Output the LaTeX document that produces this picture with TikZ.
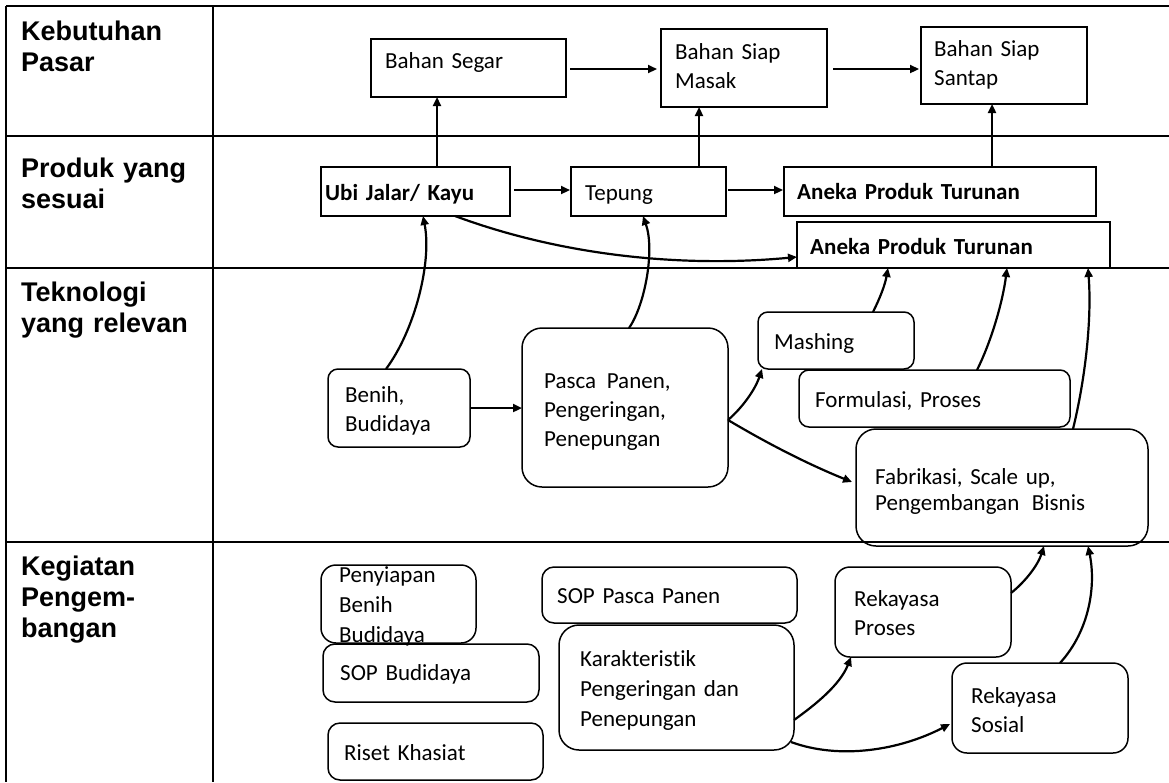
\documentclass[tikz,border=0pt]{standalone}
\usepackage{fontspec}
\setmainfont{Carlito}[Ligatures=NoCommon]
\newfontfamily\hdfont{Liberation Sans}
\usetikzlibrary{arrows.meta}

\begin{document}
\begin{tikzpicture}[x=1pt,y=-1pt,
  tbl/.style={line width=2.4pt},
  sq/.style={draw,line width=1.5pt,anchor=north west,inner sep=0pt,outer sep=0pt},
  rbox/.style={sq,rounded corners=#1},
  txt/.style={anchor=base west,inner sep=0pt,align=left,text width=300pt,font=\fontsize{23pt}{29pt}\selectfont},
  btxt/.style={txt,font=\fontsize{23pt}{29pt}\selectfont\bfseries},
  hdr/.style={anchor=base west,inner sep=0pt,align=left,text width=195pt,font=\hdfont\bfseries\fontsize{27pt}{31pt}\selectfont},
  arr/.style={-{Triangle[length=9pt,width=8pt]},line width=2.2pt}]
\useasboundingbox (0,0) rectangle (1169,782);

% table
\draw[tbl] (6,6) -- (1169,6);
\draw[tbl] (6,6) -- (6,782);
\draw[tbl] (213,6) -- (213,782);
\draw[tbl] (6,136) -- (1169,136);
\draw[tbl] (6,268) -- (1169,268);
\draw[tbl] (6,542) -- (1169,542);

\node[hdr] (hpasar) at (21,40) {Kebutuhan\\Pasar};
\node[hdr] (hproduk) at (21,177) {Produk yang\\sesuai};
\node[hdr] (htekno) at (21,301) {Teknologi\\yang relevan};
\node[hdr] (hkegiatan) at (21,575) {Kegiatan\\Pengem-\\bangan};

% kebutuhan pasar
\node[sq,minimum width=195pt,minimum height=58pt] (segar) at (371,39) {};
\node[sq,minimum width=166pt,minimum height=78pt] (masak) at (661,29) {};
\node[sq,minimum width=166pt,minimum height=77pt] (santap) at (921,27) {};
\node[txt] (segarT) at (385,68) {Bahan Segar};
\node[txt] (masakT) at (675,59) {Bahan Siap\\Masak};
\node[txt] (santapT) at (934,56) {Bahan Siap\\Santap};

% produk
\node[sq,minimum width=189pt,minimum height=49pt] (ubi) at (321,167) {};
\node[sq,minimum width=155pt,minimum height=49pt] (tepung) at (571,167) {};
\node[sq,minimum width=312pt,minimum height=49pt] (aneka1) at (784,167) {};
\node[sq,minimum width=313pt,minimum height=46pt] (aneka2) at (797,222) {};
\node[btxt] (ubiT) at (325,200) {Ubi Jalar/ Kayu};
\node[txt] (tepungT) at (585,200) {Tepung};
\node[btxt] (aneka1T) at (797,199) {Aneka Produk Turunan};
\node[btxt] (aneka2T) at (810,254) {Aneka Produk Turunan};

% teknologi
\node[rbox=10pt,minimum width=142pt,minimum height=78pt] (benih) at (328,369) {};
\node[rbox=20pt,minimum width=206pt,minimum height=159pt] (pasca) at (522,328) {};
\node[rbox=10pt,minimum width=156pt,minimum height=57pt] (mashing) at (758,312) {};
\node[rbox=10pt,minimum width=271pt,minimum height=57pt] (formulasi) at (799,370) {};
\node[rbox=20pt,minimum width=292pt,minimum height=117pt] (fabrikasi) at (856,429) {};
\node[txt] (benihT) at (345,402) {Benih,\\Budidaya};
\node[txt] (pascaT) at (544,388) {Pasca\hspace{3pt} Panen,\\Pengeringan,\\Penepungan};
\node[txt] (mashingT) at (774,349) {Mashing};
\node[txt] (formulasiT) at (815,407) {Formulasi, Proses};
\node[txt] (fabrikasiT) at (875,484) {Fabrikasi, Scale up,\\[-3pt]Pengembangan\hspace{5pt} Bisnis};

% kegiatan
\node[rbox=15pt,minimum width=155pt,minimum height=78pt] (penyiapan) at (321,565) {};
\node[rbox=12pt,minimum width=216pt,minimum height=58pt] (sopbud) at (323,644) {};
\node[rbox=12pt,minimum width=215pt,minimum height=57pt] (riset) at (328,723) {};
\node[rbox=12pt,minimum width=255pt,minimum height=56pt] (soppasca) at (542,567) {};
\node[rbox=20pt,minimum width=235pt,minimum height=125pt] (karak) at (559,625) {};
\node[rbox=15pt,minimum width=176pt,minimum height=90pt] (rproses) at (835,567) {};
\node[rbox=15pt,minimum width=176pt,minimum height=90pt] (rsosial) at (952,663) {};
\node[txt] (penyiapanT) at (339,582) {Penyiapan\\[1pt]Benih\\[1pt]Budidaya};
\node[txt] (sopbudT) at (340,680) {SOP Budidaya};
\node[txt] (risetT) at (344,760) {Riset Khasiat};
\node[txt] (soppascaT) at (557,603) {SOP Pasca Panen};
\node[txt] (karakT) at (580,666) {Karakteristik\\[1pt]Pengeringan dan\\[1pt]Penepungan};
\node[txt] (rprosesT) at (854,606) {Rekayasa\\Proses};
\node[txt] (rsosialT) at (971,703) {Rekayasa\\Sosial};

% connectors
\draw[arr,shorten <=4pt,shorten >=4pt] (segar.east |- 0,69) -- (masak.west |- 0,69);
\draw[arr,shorten <=6pt,shorten >=2pt] (masak.east |- 0,69) -- (santap.west |- 0,69);
\draw[arr] (ubi.north -| 437,0) -- (segar.south -| 437,0);
\draw[arr] (tepung.north -| 699,0) -- (masak.south -| 699,0);
\draw[arr] (aneka1.north -| 992,0) -- (santap.south -| 992,0);
\draw[arr,shorten <=4pt,shorten >=1pt] (ubi.east |- 0,190) -- (tepung.west |- 0,190);
\draw[arr,shorten <=2pt,shorten >=1pt] (tepung.east |- 0,190) -- (aneka1.west |- 0,190);
\draw[arr] (ubi.south -| 455,0) .. controls (560,255) and (680,268) .. (aneka2.west |- 0,257);
\draw[arr] (benih.north -| 386,0) .. controls (415,330) and (432,262) .. (ubi.south -| 423,0);
\draw[arr] (pasca.north -| 629,0) .. controls (645,305) and (655,250) .. (tepung.south -| 643,0);
\draw[arr] (benih.east) -- (pasca.west |- benih.east);
\draw[arr] (pasca.east |- 0,420) .. controls (742,408) and (755,390) .. ([xshift=4pt]mashing.south west);
\draw[arr] (pasca.east |- 0,420) .. controls (770,445) and (810,465) .. ([xshift=-4pt]fabrikasi.west |- 0,482);
\draw[arr] (mashing.north -| 873,0) .. controls (880,298) and (885,285) .. (aneka2.south -| 888,0);
\draw[arr] (formulasi.north -| 977,0) .. controls (992,340) and (1003,300) .. (aneka2.south -| 1007,0);
\draw[arr] (fabrikasi.north -| 1073,0) .. controls (1085,380) and (1092,320) .. (aneka2.south -| 1088,0);
\draw[arr] (karak.east |- 0,720) .. controls (815,705) and (840,685) .. ([xshift=16pt]rproses.south west);
\draw[arr] ([xshift=-3pt]karak.east |- 0,742) .. controls (840,760) and (900,750) .. ([xshift=-2pt]rsosial.west |- 0,724);
\draw[arr] (rproses.east |- 0,593) .. controls (1025,582) and (1038,565) .. (fabrikasi.south -| 1044,0);
\draw[arr] (rsosial.north -| 1060,0) .. controls (1090,630) and (1096,585) .. (fabrikasi.south -| 1088,0);
\end{tikzpicture}
\end{document}
